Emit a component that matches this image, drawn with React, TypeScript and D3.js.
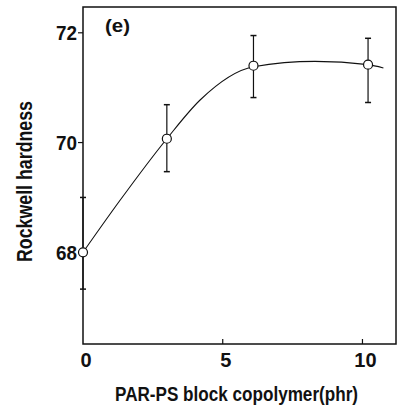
import { useEffect, useRef } from 'react';
import * as d3 from 'd3';

// measured points (phr, Rockwell hardness)
const phr = [0, 3, 6.1, 10.2];
const hardness = [68.0, 70.07, 71.4, 71.42];
const errHigh = [69.0, 70.69, 71.95, 71.9];
const errLow = [67.33, 69.47, 70.82, 70.73];

// hand-drawn fit curve
const fitX = [0, 1.3, 3, 4.2, 6.1, 8.3, 10.2, 10.75];
const fitY = [68.0, 68.93, 70.07, 70.78, 71.38, 71.48, 71.42, 71.36];

const xTicks = [0, 5, 10];
const yTicks = [68, 70, 72];

export default function App() {
  const svgRef = useRef<SVGSVGElement>(null);

  useEffect(() => {
    if (!svgRef.current) return;
    const svg = d3.select(svgRef.current);
    svg.selectAll('*').remove();

    const width = 399;
    const height = 411;
    const margin = { top: 7, right: 3, bottom: 67, left: 83 };
    const font = '"Liberation Sans", "DejaVu Sans Condensed", sans-serif';

    const x = d3.scaleLinear().domain([0, 11.2]).range([margin.left, width - margin.right]);
    const y = d3.scaleLinear().domain([66.33, 72.47]).range([height - margin.bottom, margin.top]);

    const ink = '#111';

    // frame
    svg.append('rect')
      .attr('x', margin.left)
      .attr('y', margin.top)
      .attr('width', width - margin.left - margin.right)
      .attr('height', height - margin.top - margin.bottom)
      .attr('fill', 'none')
      .attr('stroke', ink)
      .attr('stroke-width', 1.5);

    // y ticks (outward)
    svg.selectAll('.ytick')
      .data(yTicks)
      .enter()
      .append('line')
      .attr('x1', margin.left - 5)
      .attr('x2', margin.left)
      .attr('y1', d => y(d))
      .attr('y2', d => y(d))
      .attr('stroke', ink)
      .attr('stroke-width', 1.2);

    svg.selectAll('.ylab')
      .data(yTicks)
      .enter()
      .append('text')
      .attr('x', margin.left - 6)
      .attr('y', d => y(d))
      .attr('dy', '0.36em')
      .attr('text-anchor', 'end')
      .attr('textLength', 21)
      .attr('lengthAdjust', 'spacingAndGlyphs')
      .style('font-family', font)
      .style('font-size', '20px')
      .style('font-weight', '700')
      .attr('fill', ink)
      .text(d => d);

    // x ticks (inward)
    svg.selectAll('.xtick')
      .data(xTicks.filter(d => d > 0))
      .enter()
      .append('line')
      .attr('x1', d => x(d))
      .attr('x2', d => x(d))
      .attr('y1', y.range()[0])
      .attr('y2', y.range()[0] - 5)
      .attr('stroke', ink)
      .attr('stroke-width', 1.2);

    svg.selectAll('.xlab')
      .data(xTicks)
      .enter()
      .append('text')
      .attr('x', d => x(d) + 3)
      .attr('y', y.range()[0] + 23)
      .attr('text-anchor', 'middle')
      .style('font-family', font)
      .style('font-size', '20px')
      .style('font-weight', '700')
      .attr('fill', ink)
      .text(d => d);

    // fit curve
    const line = d3.line<number>()
      .x((_, i) => x(fitX[i]))
      .y(d => y(d))
      .curve(d3.curveMonotoneX);

    svg.append('path')
      .datum(fitY)
      .attr('d', line)
      .attr('fill', 'none')
      .attr('stroke', ink)
      .attr('stroke-width', 1.1);

    // error bars
    phr.forEach((p, i) => {
      const cx = x(p);
      svg.append('line')
        .attr('x1', cx).attr('x2', cx)
        .attr('y1', y(errHigh[i])).attr('y2', y(errLow[i]))
        .attr('stroke', ink).attr('stroke-width', 1.2);
      [errHigh[i], errLow[i]].forEach(v => {
        svg.append('line')
          .attr('x1', cx - 3).attr('x2', cx + 3)
          .attr('y1', y(v)).attr('y2', y(v))
          .attr('stroke', ink).attr('stroke-width', 1.5);
      });
    });

    // points
    svg.selectAll('.pt')
      .data(hardness)
      .enter()
      .append('circle')
      .attr('cx', (_, i) => x(phr[i]))
      .attr('cy', d => y(d))
      .attr('r', 4.5)
      .attr('fill', '#fff')
      .attr('stroke', ink)
      .attr('stroke-width', 1.2);

    // panel label
    svg.append('text')
      .attr('x', 105)
      .attr('y', 32)
      .attr('textLength', 25)
      .attr('lengthAdjust', 'spacingAndGlyphs')
      .style('font-family', font)
      .style('font-size', '18px')
      .style('font-weight', '700')
      .attr('fill', ink)
      .text('(e)');

    // axis titles
    svg.append('text')
      .attr('x', 115)
      .attr('y', 401)
      .attr('textLength', 243)
      .attr('lengthAdjust', 'spacingAndGlyphs')
      .style('font-family', font)
      .style('font-size', '20px')
      .style('font-weight', '700')
      .attr('fill', ink)
      .text('PAR-PS block copolymer(phr)');

    svg.append('text')
      .attr('transform', 'translate(32,262) rotate(-90)')
      .attr('textLength', 161)
      .attr('lengthAdjust', 'spacingAndGlyphs')
      .style('font-family', font)
      .style('font-size', '22px')
      .style('font-weight', '700')
      .attr('fill', ink)
      .text('Rockwell hardness');
  }, []);

  return (
    <svg
      ref={svgRef}
      width={399}
      height={411}
      style={{ position: 'absolute', left: 0, top: 0, background: '#fff' }}
    />
  );
}
